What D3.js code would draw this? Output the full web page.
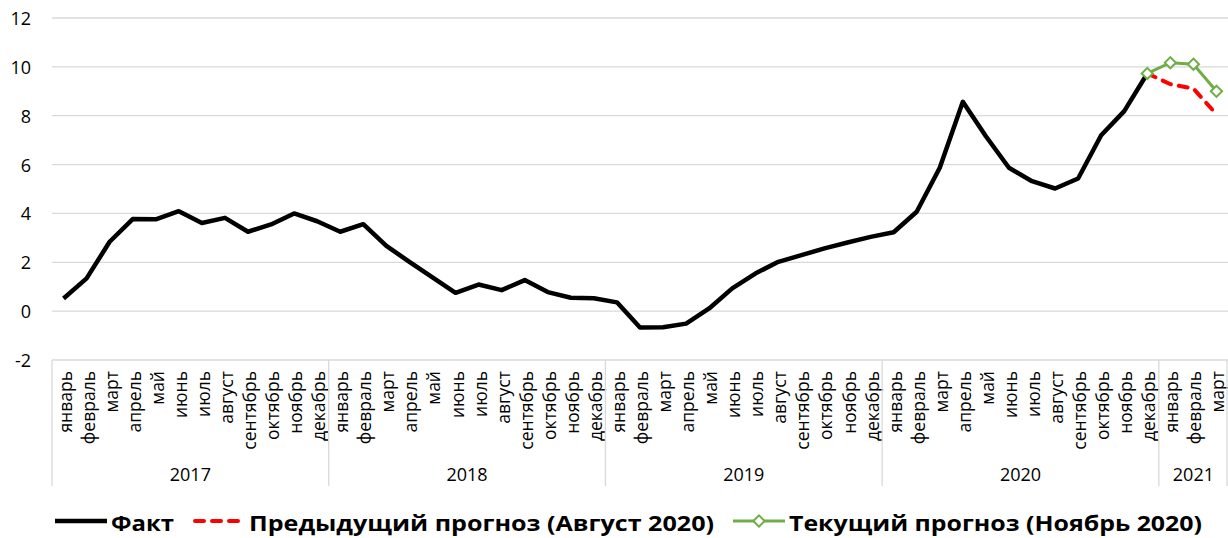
<!DOCTYPE html>
<meta charset="utf-8">
<style>
  body { margin: 0; background: #fff; }
  text { font-family: "Open Sans", sans-serif; fill: #000; }
  .grid line { stroke: #d9d9d9; stroke-width: 1.3; }
  .ytick { font-size: 18px; text-anchor: end; dominant-baseline: central; }
  .month { font-size: 17.5px; text-anchor: end; dominant-baseline: central; }
  .year { font-size: 18px; text-anchor: middle; dominant-baseline: central; }
  .legend text { font-size: 22px; font-weight: bold; dominant-baseline: central; }
</style>
<body>
<svg width="1228" height="538"></svg>
<script src="https://cdnjs.cloudflare.com/ajax/libs/d3/7.8.5/d3.min.js"></script>
<script>

var monthNames = ["январь", "февраль", "март", "апрель", "май", "июнь",
                  "июль", "август", "сентябрь", "октябрь", "ноябрь", "декабрь"];
var years = ["2017", "2018", "2019", "2020", "2021"];
var monthsPerYear = [12, 12, 12, 12, 3];

// Факт: январь 2017 - декабрь 2020
var fact = [
  0.52, 1.34, 2.84, 3.77, 3.76, 4.09, 3.61, 3.82, 3.25, 3.55, 4.0, 3.68,
  3.25, 3.56, 2.67, 2.02, 1.38, 0.75, 1.09, 0.86, 1.27, 0.78, 0.55, 0.53,
  0.36, -0.67, -0.66, -0.51, 0.11, 0.93, 1.54, 2.02, 2.29, 2.57, 2.81, 3.04,
  3.23, 4.07, 5.87, 8.57, 7.16, 5.87, 5.32, 5.02, 5.43, 7.2, 8.19, 9.73
];
// прогнозы: декабрь 2020 - март 2021
var prevForecast = [9.73, 9.29, 9.11, 8.06];
var currForecast = [9.73, 10.17, 10.11, 9.0];
var yTicks = [-2, 0, 2, 4, 6, 8, 10, 12];

var legendItems = [
  {label: "Факт", color: "#000"},
  {label: "Предыдущий прогноз (Август 2020)", color: "#ff0000"},
  {label: "Текущий прогноз (Ноябрь 2020)", color: "#70ad47"}
];
// раскладка легенды
var legendX = [55, 193, 733];
var legendTextLen = [63, 465, 413];

var categories = [];
years.forEach(function(y, yi) {
  for (var m = 0; m < monthsPerYear[yi]; m++) {
    categories.push({year: y, month: monthNames[m]});
  }
});

var svg = d3.select("svg"),
    margin = {top: 18, right: 0, bottom: 178, left: 52},
    width = +svg.attr("width"),
    height = +svg.attr("height");

var x = d3.scaleBand()
    .domain(d3.range(categories.length))
    .range([margin.left, width - margin.right])
    .padding(0);

var y = d3.scaleLinear()
    .domain([-2, 12])
    .range([height - margin.bottom, margin.top]);

function cx(i) { return x(i) + x.bandwidth() / 2; }

// сетка
svg.append("g")
    .attr("class", "grid")
  .selectAll("line")
  .data(yTicks)
  .enter().append("line")
    .attr("x1", margin.left)
    .attr("x2", width - margin.right)
    .attr("y1", function(d) { return y(d); })
    .attr("y2", function(d) { return y(d); });

svg.append("g")
  .selectAll("text")
  .data(yTicks)
  .enter().append("text")
    .attr("class", "ytick")
    .attr("x", 31)
    .attr("y", function(d) { return y(d); })
    .text(function(d) { return d; });

// подписи месяцев
var axisTop = y(-2);
svg.append("g")
  .selectAll("text")
  .data(categories)
  .enter().append("text")
    .attr("class", "month")
    .attr("transform", function(d, i) {
      return "translate(" + (cx(i) + 1) + "," + (axisTop + 11) + ") rotate(-90)";
    })
    .text(function(d) { return d.month; });

// границы годов и подписи годов
var bounds = [0];
monthsPerYear.forEach(function(n, i) { bounds.push(bounds[i] + n); });

svg.append("g")
    .attr("class", "grid")
  .selectAll("line")
  .data(bounds)
  .enter().append("line")
    .attr("x1", function(b) { return b < categories.length ? x(b) : width - 1; })
    .attr("x2", function(b) { return b < categories.length ? x(b) : width - 1; })
    .attr("y1", axisTop)
    .attr("y2", axisTop + 126);

svg.append("g")
  .selectAll("text")
  .data(years)
  .enter().append("text")
    .attr("class", "year")
    .attr("x", function(d, i) {
      var x0 = x(bounds[i]);
      var x1 = bounds[i + 1] < categories.length ? x(bounds[i + 1]) : width;
      return (x0 + x1) / 2;
    })
    .attr("y", axisTop + 114)
    .text(function(d) { return d; });

// линии
var line = d3.line()
    .x(function(d) { return cx(d.i); })
    .y(function(d) { return y(d.v); });

var factData = fact.map(function(v, i) { return {i: i, v: v}; });
var start = fact.length - 1;
var prevData = prevForecast.map(function(v, i) { return {i: start + i, v: v}; });
var currData = currForecast.map(function(v, i) { return {i: start + i, v: v}; });

svg.append("path")
    .datum(prevData)
    .attr("fill", "none")
    .attr("stroke", "#ff0000")
    .attr("stroke-width", 4)
    .attr("stroke-dasharray", "9,8")
    .attr("stroke-linecap", "round")
    .attr("d", line);

svg.append("path")
    .datum(factData)
    .attr("fill", "none")
    .attr("stroke", "#000")
    .attr("stroke-width", 4.5)
    .attr("stroke-linejoin", "round")
    .attr("d", line);

svg.append("path")
    .datum(currData)
    .attr("fill", "none")
    .attr("stroke", "#70ad47")
    .attr("stroke-width", 3)
    .attr("d", line);

var diamond = d3.symbol().type(d3.symbolDiamond2).size(80);

svg.append("g")
  .selectAll("path")
  .data(currData)
  .enter().append("path")
    .attr("transform", function(d) { return "translate(" + cx(d.i) + "," + y(d.v) + ")"; })
    .attr("d", diamond)
    .attr("fill", "#fff")
    .attr("stroke", "#70ad47")
    .attr("stroke-width", 2);

// легенда
var legendY = 521;
var legend = svg.append("g").attr("class", "legend");

legendItems.forEach(function(item, i) {
  var g = legend.append("g").attr("transform", "translate(" + legendX[i] + "," + legendY + ")");
  var ln = g.append("line")
      .attr("x1", 0).attr("x2", 52)
      .attr("stroke", item.color);
  if (i === 0) ln.attr("stroke-width", 4.5);
  if (i === 1) ln.attr("stroke-width", 4).attr("stroke-dasharray", "9,8").attr("stroke-linecap", "round").attr("x1", 2);
  if (i === 2) {
    ln.attr("stroke-width", 3);
    g.append("path")
        .attr("transform", "translate(26,0)")
        .attr("d", diamond)
        .attr("fill", "#fff")
        .attr("stroke", item.color)
        .attr("stroke-width", 2);
  }
  g.append("text")
      .attr("x", 56)
      .attr("y", 1)
      .attr("textLength", legendTextLen[i])
      .attr("lengthAdjust", "spacingAndGlyphs")
      .text(item.label);
});

</script>
</body>
</html>
